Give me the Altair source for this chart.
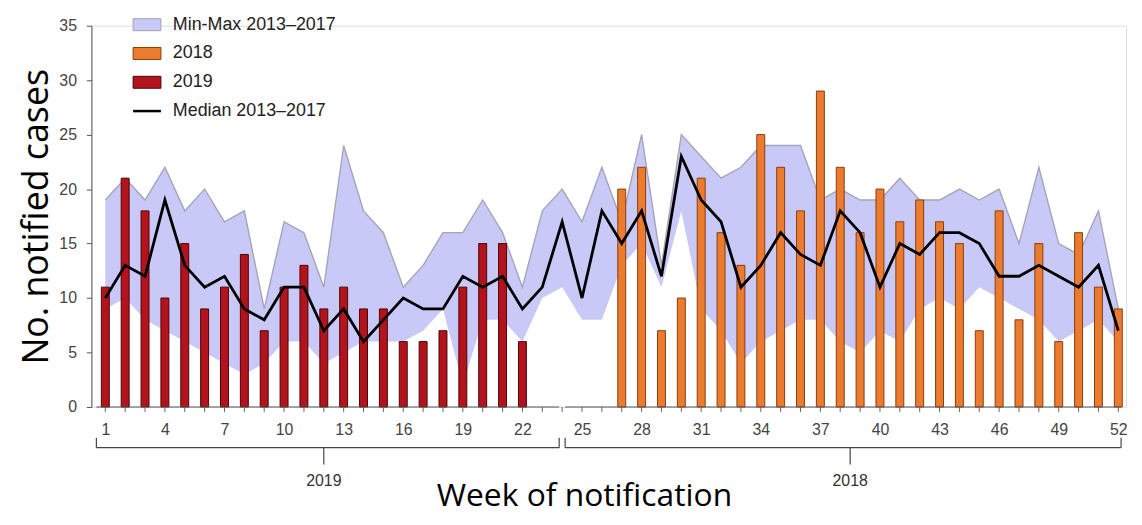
import altair as alt
import pandas as pd

# ---------------- data ----------------
weeks = list(range(1, 53))
median_2013_2017 = [10, 13, 12, 19, 13, 11, 12, 9, 8, 11, 11, 7, 9, 6, 8, 10, 9, 9, 12, 11,
                    12, 9, 11, 17, 10, 18, 15, 18, 12, 23, 19, 17, 11, 13, 16, 14, 13, 18, 16, 11,
                    15, 14, 16, 16, 15, 12, 12, 13, 12, 11, 13, 7]
max_2013_2017 = [19, 21, 19, 22, 18, 20, 17, 18, 9, 17, 16, 11, 24, 18, 16, 11, 13, 16, 16, 19,
                 16, 11, 18, 20, 17, 22, 17, 25, 13, 25, 23, 21, 22, 24, 24, 24, 19, 20, 19, 19,
                 21, 19, 19, 20, 19, 20, 15, 22, 15, 14, 18, 9]
min_2013_2017 = [9, 10, 8, 7, 6, 5, 4, 3, 4, 6, 6, 4, 5, 6, 6, 6, 7, 9, 2, 8,
                 8, 6, 10, 11, 8, 8, 13, 15, 11, 18, 9, 7, 4, 6, 7, 8, 8, 6, 5, 7,
                 6, 9, 10, 9, 11, 10, 9, 8, 6, 7, 8, 6]
weeks_2019 = list(range(1, 23))
cases_2019 = [11, 21, 18, 10, 15, 9, 11, 14, 7, 11, 13, 9, 11, 9, 9, 6, 6, 7, 11, 15, 15, 6]
weeks_2018 = list(range(27, 53))
cases_2018 = [20, 22, 7, 10, 21, 16, 13, 25, 22, 18, 29, 22, 16, 20, 17, 19, 17, 15, 7, 18,
              8, 15, 6, 16, 11, 9]
x_label_weeks = list(range(1, 53, 3))
legend_labels = ["Min-Max 2013–2017", "2018", "2019", "Median 2013–2017"]
year_labels = ["2019", "2018"]
year_first_week = [1, 25]
year_last_week = [23, 52]
break_week = 24
y_ticks = [0, 5, 10, 15, 20, 25, 30, 35]

# ---------------- styling ----------------
LAV = "#c9c9f7"
ORANGE = "#ea7b2f"
RED = "#b3131c"
X0, X1 = 0.55, 52.14
GAP = 0.15

band_df = pd.DataFrame({"week": weeks, "median": median_2013_2017,
                        "max": max_2013_2017, "min": min_2013_2017})
bars_df = pd.DataFrame({
    "week": weeks_2019 + weeks_2018,
    "cases": cases_2019 + cases_2018,
    "series": ["2019"] * len(weeks_2019) + ["2018"] * len(weeks_2018),
})
seg_df = pd.DataFrame({
    "year": year_labels,
    "start": [X0, break_week + GAP],
    "end": [break_week - GAP, X1],
    "center": [(a + b) / 2 for a, b in zip(year_first_week, year_last_week)],
})
tick_df = pd.DataFrame({"week": weeks})

xs = alt.Scale(domain=[X0, X1], nice=False, zero=False)
ys = alt.Scale(domain=[0, 35], nice=False)

x_axis = alt.Axis(
    values=x_label_weeks, labelOverlap=False,
    domain=False, grid=False, ticks=False, labelFont="Liberation Sans",
    labelFontSize=16, labelColor="#444", labelPadding=15, labelFlush=False,
    title="Week of notification", titleFont="Open Sans", titleFontSize=32,
    titleFontWeight="normal", titleColor="#000", titleX=496, titleY=99,
    titleBaseline="alphabetic", titleAnchor="middle", titleAlign="center",
)
y_axis = alt.Axis(
    values=y_ticks, grid=False, tickSize=5, tickColor="#555", domainColor="#555",
    labelFont="Liberation Sans", labelFontSize=16, labelColor="#444", labelPadding=10,
    title="No. notified cases", titleFont="Open Sans", titleFontSize=36,
    titleFontWeight="normal", titleColor="#000", titlePadding=3,
)

base_x = alt.X("week:Q", scale=xs, axis=x_axis)

band = alt.Chart(band_df).mark_area(color=LAV, opacity=1).encode(
    x=base_x, y=alt.Y("max:Q", scale=ys, axis=y_axis), y2="min:Q")
band_top = alt.Chart(band_df).mark_line(color="#a5a5b5", strokeWidth=1.4).encode(
    x="week:Q", y="max:Q")

legend = alt.Legend(
    orient="none", legendX=47, legendY=-10, title=None, padding=0,
    symbolType=alt.ExprRef(expr="datum.value == 'Median 2013–2017' ? 'stroke' : 'M-1,-0.43H1V0.43H-1Z'"),
    symbolSize=784,
    symbolStrokeColor=alt.ExprRef(expr="datum.value == 'Median 2013–2017' ? '#000' : datum.value == '2018' ? '#8b3c0c' : datum.value == '2019' ? '#4a0505' : '#a0a0b4'"),
    symbolStrokeWidth=alt.ExprRef(expr="datum.value == 'Median 2013–2017' ? 2.5 : 1"),
    symbolOpacity=1, labelFont="Liberation Sans", labelFontSize=18, labelColor="#222",
    labelOffset=17, rowPadding=11, labelLimit=400,
)

bars = alt.Chart(bars_df).mark_bar(size=8, strokeWidth=1).encode(
    x="week:Q", y="cases:Q",
    fill=alt.Fill("series:N", scale=alt.Scale(domain=legend_labels,
                                              range=[LAV, ORANGE, RED, "#000"]), legend=legend),
    stroke=alt.Stroke("series:N", scale=alt.Scale(domain=legend_labels,
                                                  range=["#a0a0b4", "#8b3c0c", "#4a0505", "#000"]),
                      legend=None),
)

median = alt.Chart(band_df).mark_line(color="#000", strokeWidth=2.8).encode(
    x="week:Q", y="median:Q")

axis_line = alt.Chart(seg_df).mark_rule(color="#555", strokeWidth=1).encode(
    x="start:Q", x2="end:Q", y=alt.datum(0))
week_ticks = alt.Chart(tick_df).mark_rule(color="#666", strokeWidth=1).encode(
    x="week:Q", y=alt.value(384), y2=alt.value(389))

bracket_h = alt.Chart(seg_df).mark_rule(color="#444", strokeWidth=1.2).encode(
    x="start:Q", x2="end:Q", y=alt.value(425))
bracket_l = alt.Chart(seg_df).mark_rule(color="#444", strokeWidth=1.2).encode(
    x="start:Q", y=alt.value(415), y2=alt.value(425))
bracket_r = alt.Chart(seg_df).mark_rule(color="#444", strokeWidth=1.2).encode(
    x="end:Q", y=alt.value(415), y2=alt.value(425))
bracket_c = alt.Chart(seg_df).mark_rule(color="#444", strokeWidth=1.2).encode(
    x="center:Q", y=alt.value(425), y2=alt.value(442))
year_text = alt.Chart(seg_df).mark_text(
    font="Liberation Sans", fontSize=16, color="#333", baseline="middle").encode(
    x="center:Q", y=alt.value(459), text="year:N")

chart = alt.layer(
    band, band_top, bars, median, axis_line, week_ticks,
    bracket_h, bracket_l, bracket_r, bracket_c, year_text,
).resolve_scale(fill="independent", stroke="independent").properties(
    width=1042, height=384,
    padding={"left": 84, "top": 16, "right": 8, "bottom": 109},
    autosize=alt.AutoSizeParams(type="none"),
).configure_view(stroke=None).configure(background="white")

chart.save("out.html", embed_options={"renderer": "svg", "actions": False})
